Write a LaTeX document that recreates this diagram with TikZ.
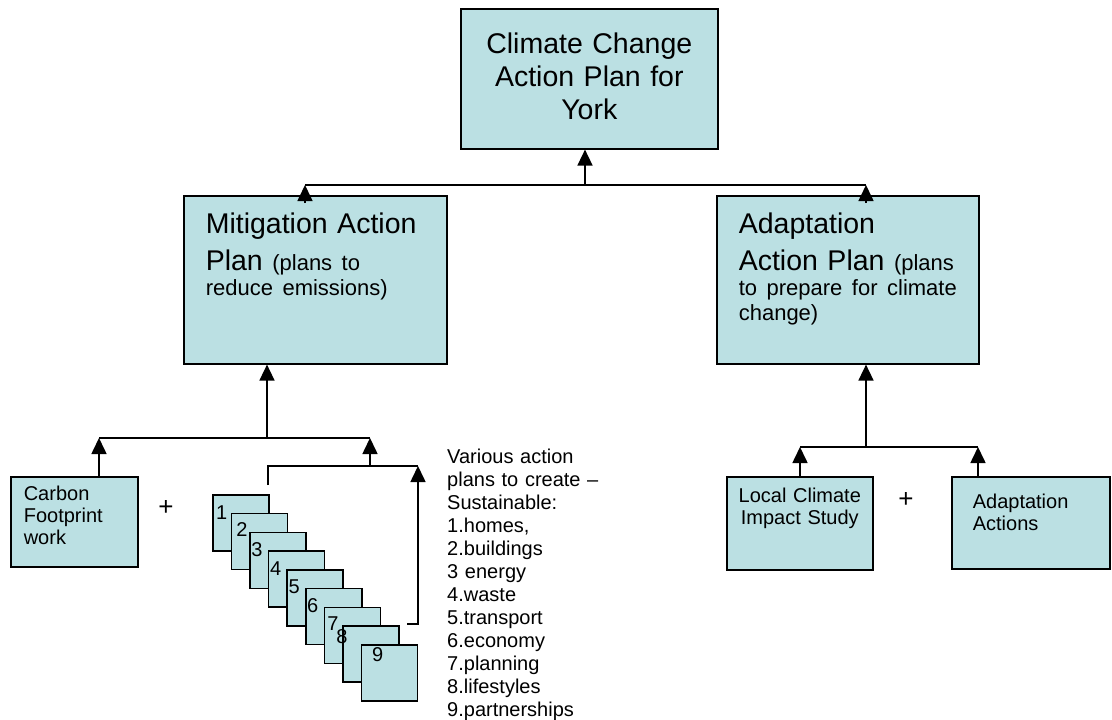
\documentclass[tikz,border=0pt]{standalone}
\usepackage{fontspec}
\setmainfont{Liberation Sans}
\usepackage{tikz}
\usetikzlibrary{arrows.meta, positioning, calc}
\definecolor{boxfill}{RGB}{187,224,227}
\newcommand{\headtxt}{\fontsize{28.5}{33}\selectfont}
\newcommand{\notetxt}{\fontsize{22}{25}\selectfont}
\newcommand{\plaintxt}{\fontsize{20}{22}\selectfont}
\newcommand{\listtxt}{\fontsize{20}{23}\selectfont}

\tikzset{
  box/.style={draw, fill=boxfill, line width=1.6pt, anchor=north west, inner ysep=0pt},
  stackbox/.style={draw, fill=boxfill, line width=1.6pt, anchor=north west,
    minimum width=56pt, minimum height=56pt, inner sep=0pt},
  num/.style={anchor=base west, inner sep=0pt, font=\plaintxt},
  wire/.style={line width=1.6pt},
  arr/.style={line width=1.6pt, -{Triangle[length=16pt,width=15pt]}},
}

\begin{document}
\begin{tikzpicture}[x=1pt, y=-1pt]
    \useasboundingbox (0,0) rectangle (1112,720);

    % The main plan
    \node[box, text width=237pt, align=center, inner xsep=10pt,
          text height=45pt, text depth=95pt, font=\headtxt] (plan) at (460,8)
          {Climate Change\\Action Plan for\\York};

    % The two action plans
    \node[box, text width=219pt, align=left, inner xsep=22pt,
          text height=38pt, text depth=130pt, font=\headtxt] (mitig) at (183,195)
          {Mitigation Action\\[4pt]Plan {\notetxt (plans to}\\[-8pt]{\notetxt\mbox{reduce emissions)}}};
    \node[box, text width=218pt, align=left, inner xsep=22pt,
          text height=38pt, text depth=130pt, font=\headtxt] (adapt) at (716,195)
          {Adaptation\\[4pt]Action Plan {\notetxt (plans}\\[-8pt]{\notetxt\mbox{to prepare for climate}}\\[-8pt]{\notetxt change)}};

    % Mitigation parts
    \node[box, text width=101pt, align=left, inner xsep=13pt,
          text height=24pt, text depth=66pt, font=\plaintxt] (carbon) at (10,476)
          {Carbon\\Footprint\\work};
    \node[font=\fontsize{26}{26}\selectfont] (plusa) at (166,508) {+};

    % The stack of sector plans
    \foreach \i in {1,...,9} {
        \node[stackbox] (s\i) at ({212+18.6*(\i-1)},{494+18.75*(\i-1)}) {};
    }
    \foreach \i/\dx/\dy in {1/4/25, 2/5.5/24, 3/2/24.5, 4/2/25, 5/2/24, 6/2/25, 7/3.5/23.5, 8/-6/18, 9/11/17} {
        \node[num] (n\i) at ($(s\i.north west)+(\dx,\dy)$) {\i};
    }

    \node[font=\listtxt, text width=170pt, align=left, inner sep=0pt,
          anchor=north west, text height=15pt] (sectors) at (447,448)
          {Various action\\plans to create –\\Sustainable:\\1.homes,\\2.buildings\\3 energy\\4.waste\\5.transport\\6.economy\\7.planning\\8.lifestyles\\9.partnerships};

    % Adaptation parts
    \node[box, text width=136pt, align=center, inner xsep=5pt,
          text height=26pt, text depth=67pt, font=\plaintxt] (local) at (726,476)
          {Local Climate\\Impact Study};
    \node[font=\fontsize{26}{26}\selectfont] (plusb) at (906,500) {+};
    \node[box, text width=116pt, align=left, inner xsep=21pt,
          text height=32pt, text depth=60pt, font=\plaintxt] (actions) at (951,476)
          {Adaptation\\Actions};

    % Joints
    \coordinate (topj) at (585,185);
    \coordinate (mitj) at (305,185);
    \coordinate (adaj) at (866,185);
    \coordinate (mitb) at (267,438);
    \coordinate (carbj) at (99,438);
    \coordinate (stkj) at (370,438);
    \coordinate (brk) at (370,466);
    \coordinate (brkl) at (268,485);
    \coordinate (brkr) at (418,466);
    \coordinate (stkend) at (407,624);
    \coordinate (adab) at (866,447);
    \coordinate (locj) at (800,447);
    \coordinate (actj) at (978,447);

    % Top level connectors
    \draw[wire] (mitj) -- (adaj);
    \draw[arr] (topj) -- (topj |- plan.south);
    \draw[arr] ($(mitj |- mitig.north)+(0,8)$) -- (mitj);
    \draw[arr] ($(adaj |- adapt.north)+(0,8)$) -- (adaj);

    % Mitigation connectors
    \draw[arr] (mitb) -- (mitb |- mitig.south);
    \draw[wire] (carbj) -- (stkj);
    \draw[arr] (carbj |- carbon.north) -- (carbj);
    \draw[arr] (brk) -- (stkj);
    \draw[wire] (brkl) |- (brkr);
    \draw[arr] (stkend) -| (brkr);

    % Adaptation connectors
    \draw[arr] (adab) -- (adab |- adapt.south);
    \draw[wire] (locj) -- (actj);
    \draw[arr] (locj |- local.north) -- (locj);
    \draw[arr] (actj |- actions.north) -- (actj);
\end{tikzpicture}
\end{document}
